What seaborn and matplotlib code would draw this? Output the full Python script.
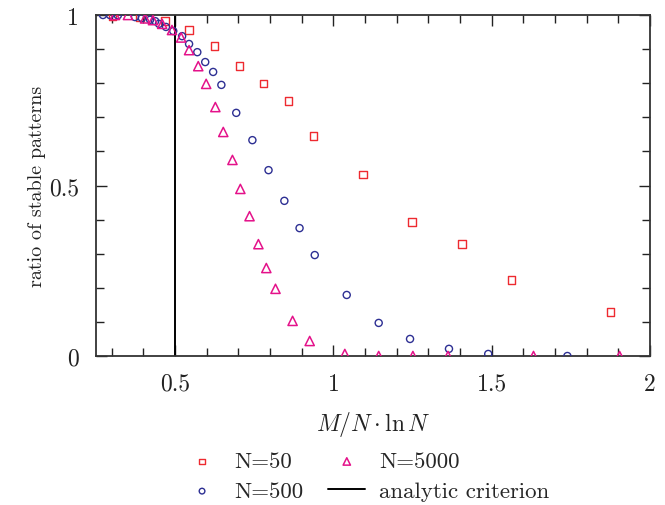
import numpy as np
import pandas as pd
import matplotlib
matplotlib.use("Agg")
import matplotlib.pyplot as plt
from matplotlib.ticker import MultipleLocator, FuncFormatter
import seaborn as sns

# ---- data ----
x_n50 = [0.303, 0.389, 0.468, 0.544, 0.624, 0.703, 0.779, 0.858, 0.937,
         1.093, 1.248, 1.406, 1.562, 1.876]
y_n50 = [0.997, 0.994, 0.982, 0.956, 0.909, 0.850, 0.800, 0.748, 0.645,
         0.532, 0.393, 0.328, 0.223, 0.129]

x_n500 = [0.272, 0.294, 0.319, 0.373, 0.395, 0.421, 0.437, 0.449, 0.471,
          0.494, 0.522, 0.544, 0.570, 0.595, 0.620, 0.646, 0.693, 0.744,
          0.795, 0.845, 0.893, 0.941, 1.042, 1.143, 1.242, 1.365, 1.489, 1.739]
y_n500 = [1.000, 1.000, 0.999, 0.994, 0.991, 0.986, 0.982, 0.974, 0.965,
          0.953, 0.938, 0.915, 0.891, 0.862, 0.833, 0.795, 0.713, 0.633,
          0.545, 0.455, 0.375, 0.296, 0.179, 0.097, 0.050, 0.021, 0.006, 0.000]

x_n5000 = [0.310, 0.351, 0.405, 0.430, 0.459, 0.490, 0.519, 0.544, 0.573,
           0.598, 0.627, 0.652, 0.681, 0.706, 0.735, 0.763, 0.788, 0.817,
           0.871, 0.925, 1.036, 1.143, 1.251, 1.362, 1.632, 1.904]
y_n5000 = [1.000, 1.000, 0.990, 0.985, 0.974, 0.956, 0.934, 0.897, 0.850,
           0.798, 0.730, 0.657, 0.575, 0.490, 0.410, 0.328, 0.258, 0.197,
           0.103, 0.044, 0.006, 0.000, 0.000, 0.000, 0.000, 0.000]

criterion_x = 0.5

series_labels = ["N=50", "N=500", "N=5000"]
criterion_label = "analytic criterion"
xlabel = r"$M/N\cdot\ln N$"
ylabel = "ratio of stable patterns"

# ---- style ----
sns.set_theme(style="ticks")
plt.rcParams["mathtext.fontset"] = "cm"
plt.rcParams["font.family"] = ["cmr10", "DejaVu Serif"]
plt.rcParams["axes.formatter.use_mathtext"] = True

fig = plt.figure(figsize=(6.65, 5.06), dpi=100)
ax = fig.add_axes([96/665, 1-357/506, (650-96)/665, (357-16)/506])

red = "#ee2a30"
blue = "#2d2f93"
mag = "#e4128a"

sns.scatterplot(x=x_n50, y=y_n50, marker="s", s=28, facecolor="none",
                edgecolor=red, linewidth=1.0, ax=ax, label=series_labels[0], zorder=3)
sns.scatterplot(x=x_n500, y=y_n500, marker="o", s=26, facecolor="none",
                edgecolor=blue, linewidth=1.0, ax=ax, label=series_labels[1], zorder=3)
sns.scatterplot(x=x_n5000, y=y_n5000, marker="^", s=44, facecolor="none",
                edgecolor=mag, linewidth=1.1, ax=ax, label=series_labels[2], zorder=3)
ax.axvline(criterion_x, color="black", lw=1.4, label=criterion_label, zorder=2)

ax.set_xlim(0.25, 2.0)
ax.set_ylim(0, 1)
ax.xaxis.set_major_locator(MultipleLocator(0.5))
ax.xaxis.set_minor_locator(MultipleLocator(0.1))
ax.yaxis.set_major_locator(MultipleLocator(0.5))
ax.yaxis.set_minor_locator(MultipleLocator(0.1))

def fmt(v, pos):
    return "%g" % v
ax.xaxis.set_major_formatter(FuncFormatter(fmt))
ax.yaxis.set_major_formatter(FuncFormatter(fmt))

ax.tick_params(which="both", direction="in", top=True, right=True,
               colors="#222222", labelcolor="#222222", labelsize=17, pad=12)
ax.tick_params(which="major", length=8, width=1.0)
ax.tick_params(which="minor", length=5.5, width=1.0)
for sp in ax.spines.values():
    sp.set_linewidth(1.3)
    sp.set_color("#333333")

ax.set_xlabel(xlabel, fontsize=17, labelpad=10, color="#222222")
ax.set_ylabel(ylabel, fontsize=14.5, color="#222222")
ax.yaxis.set_label_coords(-0.091, 0.5)

handles, labels = ax.get_legend_handles_labels()
if ax.legend_:
    ax.legend_.remove()
fig.legend(handles, labels, ncol=2, frameon=False, loc="upper center",
           bbox_to_anchor=(0.551, 0.124), fontsize=16.5, handlelength=1.6,
           columnspacing=1.1, labelspacing=0.42, handletextpad=0.6,
           borderaxespad=0, markerscale=0.8)

fig.savefig("out.png", dpi=100)
